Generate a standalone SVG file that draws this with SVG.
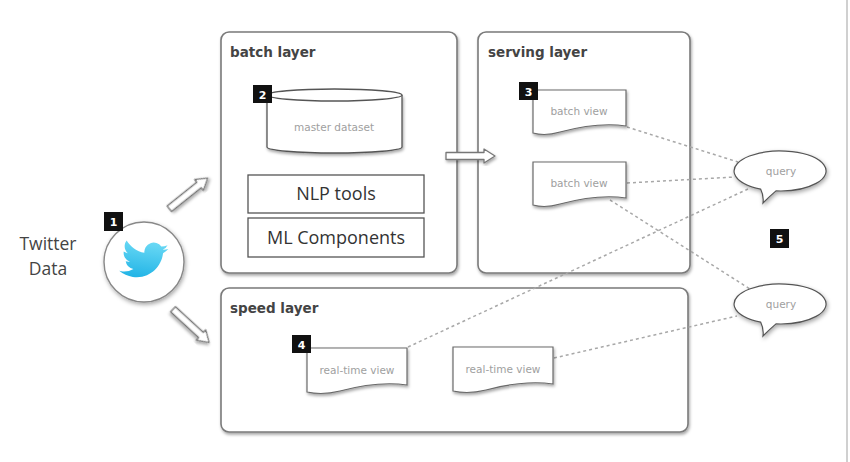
<svg xmlns="http://www.w3.org/2000/svg" width="850" height="462" viewBox="0 0 850 462">
<defs>
<filter id="sh" x="-10%" y="-10%" width="120%" height="130%">
<feDropShadow dx="1" dy="2" stdDeviation="1.5" flood-color="#000" flood-opacity="0.35"/>
</filter>
<filter id="sh2" x="-20%" y="-20%" width="140%" height="150%">
<feDropShadow dx="1" dy="2" stdDeviation="2" flood-color="#000" flood-opacity="0.35"/>
</filter>
<linearGradient id="bird" x1="0" y1="0" x2="0" y2="1">
<stop offset="0" stop-color="#6ad9f5"/>
<stop offset="1" stop-color="#22b4e6"/>
</linearGradient>
<polygon id="harrow" points="0,-3.5 -38,-3.5 -38,3.5 0,3.5 0,7 11,0 0,-7 0,-3.5"/>
</defs>
<style>
.layer{fill:#fff;stroke:#7a7a7a;stroke-width:1.6}
.ltitle{font-family:"DejaVu Sans",sans-serif;font-weight:bold;font-size:13.5px;fill:#444}
.small{font-family:"DejaVu Sans",sans-serif;font-size:10.5px;fill:#a0a0a0}
.doc{fill:#fff;stroke:#6a6a6a;stroke-width:1.2}
.badge{fill:#111}
.bnum{font-family:"DejaVu Sans",sans-serif;font-weight:bold;font-size:11px;fill:#fff}
.tool{fill:#fff;stroke:#555;stroke-width:1.3}
.tooltxt{font-family:"Open Sans",sans-serif;font-size:18px;fill:#333}
.arrow{fill:#fff;stroke:#777;stroke-width:1.3;stroke-linejoin:round}
.dash{fill:none;stroke:#a8a8a8;stroke-width:1.5;stroke-dasharray:3 3}
.bubble{fill:#fff;stroke:#555;stroke-width:1.2}
</style>
<rect width="850" height="462" fill="#fff"/>
<line x1="847" y1="0" x2="847" y2="462" stroke="#d0d0d0" stroke-width="2"/>

<g id="batch-layer">
<rect class="layer" x="221" y="32" width="236" height="241" rx="8" filter="url(#sh)"/>
<text class="ltitle" x="230" y="57">batch layer</text>
</g>

<g id="serving-layer">
<rect class="layer" x="478" y="32" width="212" height="241" rx="8" filter="url(#sh)"/>
<text class="ltitle" x="488" y="57">serving layer</text>
</g>

<g id="speed-layer">
<rect class="layer" x="221" y="288" width="467" height="144" rx="8" filter="url(#sh)"/>
<text class="ltitle" x="230" y="313">speed layer</text>
</g>

<g id="connectors">
<path class="dash" d="M627,127 L738,162"/>
<path class="dash" d="M627,183 L735,177"/>
<path class="dash" d="M610,200 L750,289"/>
<path class="dash" d="M408,347 L748,189"/>
<path class="dash" d="M554,358 L737,316"/>
<use href="#harrow" class="arrow" filter="url(#sh)" transform="translate(199,185) rotate(-38.7)"/>
<use href="#harrow" class="arrow" filter="url(#sh)" transform="translate(201,335) rotate(42.6)"/>
<use href="#harrow" class="arrow" filter="url(#sh)" transform="translate(484,156)"/>
</g>

<g id="twitter">
<text x="48" y="250" text-anchor="middle" font-family="Open Sans, sans-serif" font-size="17.5" fill="#444">Twitter</text>
<text x="48" y="275" text-anchor="middle" font-family="Open Sans, sans-serif" font-size="17.5" fill="#444">Data</text>
<circle cx="144" cy="262" r="40" fill="#fff" stroke="#888" stroke-width="1.4" filter="url(#sh2)"/>
<path fill="url(#bird)" transform="translate(121,237) scale(1.9) rotate(8 12 12)" d="M23.953 4.57a10 10 0 01-2.825.775 4.958 4.958 0 002.163-2.723c-.951.555-2.005.959-3.127 1.184a4.920 4.920 0 00-8.384 4.482C7.690 8.095 4.067 6.130 1.640 3.162a4.822 4.822 0 00-.666 2.475c0 1.710.870 3.213 2.188 4.096a4.904 4.904 0 01-2.228-.616v.060a4.923 4.923 0 003.946 4.827 4.996 4.996 0 01-2.212.085 4.936 4.936 0 004.604 3.417 9.867 9.867 0 01-6.102 2.105c-.390 0-.779-.023-1.170-.067a13.995 13.995 0 007.557 2.209c9.053 0 13.998-7.496 13.998-13.985 0-.210 0-.420-.015-.630A9.935 9.935 0 0024 4.590z"/>
<rect class="badge" x="104" y="212" width="19" height="19"/>
<text class="bnum" x="113.5" y="226" text-anchor="middle">1</text>
</g>

<g id="master-dataset">
<path d="M267,95 V147 A67.5,6 0 0 0 402,147 V95" fill="#fff" stroke="#555" stroke-width="1.3" filter="url(#sh)"/>
<ellipse cx="334.5" cy="95" rx="67.5" ry="6" fill="#fff" stroke="#555" stroke-width="1.3"/>
<text class="small" x="334" y="131" text-anchor="middle">master dataset</text>
<rect class="badge" x="253" y="85" width="19" height="18"/>
<text class="bnum" x="262.5" y="98.5" text-anchor="middle">2</text>
</g>

<g id="nlp-tools">
<rect class="tool" x="248" y="175" width="176" height="38"/>
<text class="tooltxt" x="336" y="200" text-anchor="middle">NLP tools</text>
</g>

<g id="ml-components">
<rect class="tool" x="248" y="218" width="176" height="39"/>
<text class="tooltxt" x="336" y="244" text-anchor="middle">ML Components</text>
</g>

<g id="batch-view-1">
<path class="doc" filter="url(#sh)" d="M533,90 H626 V126 C600,122 575,128 560,132 C550,135 540,135 533,133 Z"/>
<text class="small" x="579" y="115" text-anchor="middle">batch view</text>
<rect class="badge" x="519" y="82" width="19" height="18"/>
<text class="bnum" x="528.5" y="95.5" text-anchor="middle">3</text>
</g>

<g id="batch-view-2">
<path class="doc" filter="url(#sh)" d="M533,162 H626 V198 C600,194 575,200 560,204 C550,207 540,207 533,205 Z"/>
<text class="small" x="579" y="187" text-anchor="middle">batch view</text>
</g>

<g id="realtime-view-1">
<path class="doc" filter="url(#sh)" d="M307,348 H407 V385 C380,381 355,387 340,391 C328,394 316,394 307,392 Z"/>
<text class="small" x="357" y="374" text-anchor="middle">real-time view</text>
<rect class="badge" x="292" y="335" width="19" height="18"/>
<text class="bnum" x="301.5" y="348.5" text-anchor="middle">4</text>
</g>

<g id="realtime-view-2">
<path class="doc" filter="url(#sh)" d="M453,347 H553 V384 C526,380 501,386 486,390 C474,393 462,393 453,391 Z"/>
<text class="small" x="503" y="373" text-anchor="middle">real-time view</text>
</g>

<g id="query-1">
<path class="bubble" filter="url(#sh2)" d="M776,190.9 A46,20 0 1 0 760.6,189.1 Q764,196 763,203 Q770,196 776,190.9 Z"/>
<text class="small" x="781" y="175" text-anchor="middle">query</text>
</g>

<g id="query-2">
<path class="bubble" filter="url(#sh2)" d="M776,323.9 A46,20 0 1 0 760.6,322.1 Q764,329 763,336 Q770,329 776,323.9 Z"/>
<text class="small" x="781" y="308" text-anchor="middle">query</text>
</g>

<g id="badge-5">
<rect class="badge" x="770" y="229" width="19" height="19"/>
<text class="bnum" x="779.5" y="243" text-anchor="middle">5</text>
</g>
</svg>
